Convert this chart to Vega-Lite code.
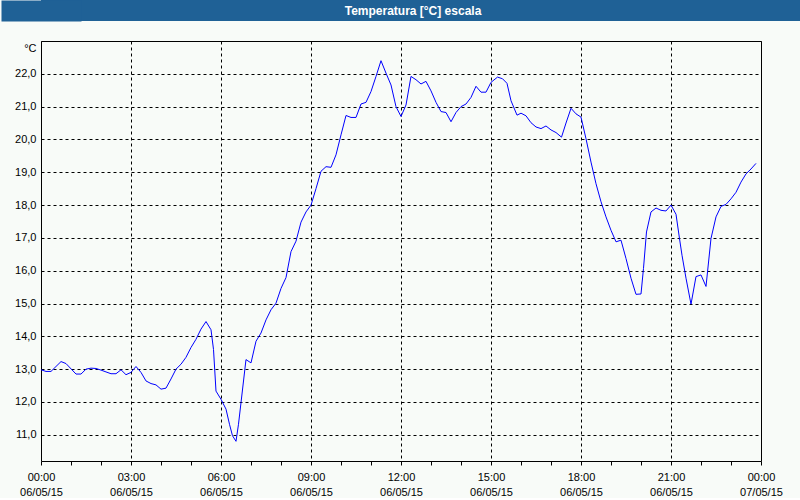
{
  "$schema": "https://vega.github.io/schema/vega-lite/v6.json",
  "background": "#F8FBF8",
  "padding": 0,
  "spacing": 19,
  "config": {"font": "Liberation Sans"},
  "datasets": {
    "head": [{"t": "Temperatura [°C] escala"}],
    "temp": [
      {"hora": 0, "v": 12.98}, {"hora": 0.167, "v": 12.93}, {"hora": 0.333, "v": 12.93},
      {"hora": 0.667, "v": 13.23}, {"hora": 0.833, "v": 13.17}, {"hora": 1.167, "v": 12.85},
      {"hora": 1.333, "v": 12.85}, {"hora": 1.5, "v": 13.0}, {"hora": 1.667, "v": 13.03},
      {"hora": 1.833, "v": 13.02}, {"hora": 2.0, "v": 12.97}, {"hora": 2.333, "v": 12.86},
      {"hora": 2.5, "v": 12.86}, {"hora": 2.667, "v": 12.98}, {"hora": 2.833, "v": 12.83},
      {"hora": 3.0, "v": 12.9}, {"hora": 3.167, "v": 13.08}, {"hora": 3.333, "v": 12.9},
      {"hora": 3.5, "v": 12.64}, {"hora": 3.667, "v": 12.56}, {"hora": 3.833, "v": 12.52},
      {"hora": 4.0, "v": 12.39}, {"hora": 4.167, "v": 12.42}, {"hora": 4.333, "v": 12.7},
      {"hora": 4.5, "v": 13.0}, {"hora": 4.667, "v": 13.15}, {"hora": 4.833, "v": 13.36},
      {"hora": 5.0, "v": 13.66}, {"hora": 5.167, "v": 13.91}, {"hora": 5.333, "v": 14.22},
      {"hora": 5.5, "v": 14.45}, {"hora": 5.667, "v": 14.2}, {"hora": 5.75, "v": 13.6},
      {"hora": 5.833, "v": 12.33}, {"hora": 6.0, "v": 12.08}, {"hora": 6.167, "v": 11.78},
      {"hora": 6.283, "v": 11.32}, {"hora": 6.383, "v": 10.97}, {"hora": 6.5, "v": 10.8},
      {"hora": 6.583, "v": 11.32}, {"hora": 6.667, "v": 11.98}, {"hora": 6.833, "v": 13.29},
      {"hora": 7.0, "v": 13.19}, {"hora": 7.167, "v": 13.85}, {"hora": 7.333, "v": 14.1},
      {"hora": 7.5, "v": 14.5}, {"hora": 7.667, "v": 14.81}, {"hora": 7.833, "v": 15.01},
      {"hora": 8.0, "v": 15.46}, {"hora": 8.167, "v": 15.79}, {"hora": 8.333, "v": 16.58},
      {"hora": 8.5, "v": 16.9}, {"hora": 8.667, "v": 17.48}, {"hora": 8.833, "v": 17.79},
      {"hora": 9.0, "v": 18.0}, {"hora": 9.167, "v": 18.5}, {"hora": 9.333, "v": 19.03},
      {"hora": 9.5, "v": 19.17}, {"hora": 9.667, "v": 19.15}, {"hora": 9.833, "v": 19.53},
      {"hora": 10.0, "v": 20.14}, {"hora": 10.167, "v": 20.73}, {"hora": 10.333, "v": 20.67},
      {"hora": 10.5, "v": 20.67}, {"hora": 10.667, "v": 21.08}, {"hora": 10.833, "v": 21.13},
      {"hora": 11.0, "v": 21.46}, {"hora": 11.167, "v": 21.92}, {"hora": 11.333, "v": 22.4},
      {"hora": 11.5, "v": 22.02}, {"hora": 11.667, "v": 21.66}, {"hora": 11.833, "v": 21.0},
      {"hora": 12.0, "v": 20.7}, {"hora": 12.167, "v": 21.05}, {"hora": 12.333, "v": 21.92},
      {"hora": 12.5, "v": 21.82}, {"hora": 12.667, "v": 21.69}, {"hora": 12.833, "v": 21.77},
      {"hora": 13.0, "v": 21.48}, {"hora": 13.167, "v": 21.13}, {"hora": 13.333, "v": 20.85},
      {"hora": 13.5, "v": 20.82}, {"hora": 13.667, "v": 20.54}, {"hora": 13.833, "v": 20.82},
      {"hora": 14.0, "v": 21.0}, {"hora": 14.167, "v": 21.08}, {"hora": 14.333, "v": 21.28},
      {"hora": 14.5, "v": 21.62}, {"hora": 14.667, "v": 21.44}, {"hora": 14.833, "v": 21.44},
      {"hora": 15.0, "v": 21.74}, {"hora": 15.217, "v": 21.9}, {"hora": 15.383, "v": 21.85},
      {"hora": 15.533, "v": 21.71}, {"hora": 15.667, "v": 21.18}, {"hora": 15.867, "v": 20.74},
      {"hora": 16.0, "v": 20.8}, {"hora": 16.167, "v": 20.72}, {"hora": 16.333, "v": 20.51},
      {"hora": 16.5, "v": 20.38}, {"hora": 16.667, "v": 20.33}, {"hora": 16.833, "v": 20.41},
      {"hora": 17.0, "v": 20.29}, {"hora": 17.167, "v": 20.21}, {"hora": 17.35, "v": 20.07},
      {"hora": 17.5, "v": 20.5}, {"hora": 17.667, "v": 20.95}, {"hora": 17.833, "v": 20.78},
      {"hora": 18.0, "v": 20.68}, {"hora": 18.167, "v": 20.02}, {"hora": 18.333, "v": 19.31},
      {"hora": 18.5, "v": 18.65}, {"hora": 18.667, "v": 18.1}, {"hora": 18.833, "v": 17.64},
      {"hora": 19.0, "v": 17.23}, {"hora": 19.167, "v": 16.88}, {"hora": 19.333, "v": 16.93},
      {"hora": 19.5, "v": 16.37}, {"hora": 19.667, "v": 15.77}, {"hora": 19.833, "v": 15.28},
      {"hora": 20.0, "v": 15.29}, {"hora": 20.083, "v": 16.07}, {"hora": 20.183, "v": 17.18},
      {"hora": 20.333, "v": 17.79}, {"hora": 20.5, "v": 17.91}, {"hora": 20.667, "v": 17.84},
      {"hora": 20.833, "v": 17.82}, {"hora": 21.0, "v": 18.0}, {"hora": 21.167, "v": 17.72},
      {"hora": 21.283, "v": 16.98}, {"hora": 21.367, "v": 16.47}, {"hora": 21.5, "v": 15.77},
      {"hora": 21.667, "v": 14.98}, {"hora": 21.833, "v": 15.82}, {"hora": 22.0, "v": 15.87},
      {"hora": 22.167, "v": 15.52}, {"hora": 22.333, "v": 16.98}, {"hora": 22.5, "v": 17.64},
      {"hora": 22.667, "v": 17.96}, {"hora": 22.833, "v": 18.02}, {"hora": 23.0, "v": 18.19},
      {"hora": 23.167, "v": 18.39}, {"hora": 23.333, "v": 18.7}, {"hora": 23.5, "v": 18.95},
      {"hora": 23.667, "v": 19.1}, {"hora": 23.833, "v": 19.27}
    ]
  },
  "vconcat": [
    {
      "width": 760,
      "height": 21,
      "data": {"name": "head"},
      "view": {"fill": "#1F6196", "stroke": null},
      "mark": {"type": "text", "color": "white", "fontWeight": "bold", "fontSize": 12, "dx": -8},
      "encoding": {
        "text": {"field": "t"},
        "y": {
          "field": "t",
          "type": "nominal",
          "axis": {
            "title": null,
            "labels": false,
            "ticks": false,
            "grid": false,
            "domain": true,
            "domainColor": "#1F6196",
            "domainWidth": 80,
            "minExtent": 40,
            "maxExtent": 40
          }
        }
      }
    },
    {
      "width": 720,
      "height": 420,
      "data": {"name": "temp"},
      "view": {"fill": "#F8FBF8", "stroke": "black", "strokeWidth": 1},
      "mark": {"type": "line", "color": "#0000FF", "strokeWidth": 1},
      "encoding": {
        "x": {
          "field": "hora",
          "type": "quantitative",
          "scale": {"domain": [0, 24], "nice": false, "zero": false},
          "axis": {
            "title": null,
            "domain": false,
            "values": [0, 1, 2, 3, 4, 5, 6, 7, 8, 9, 10, 11, 12, 13, 14, 15, 16, 17, 18, 19, 20, 21, 22, 23, 24],
            "tickSize": 4,
            "tickColor": "black",
            "labelExpr": "datum.value % 3 == 0 ? [(datum.value == 24 ? '00' : (datum.value < 10 ? '0' : '') + datum.value) + ':00', datum.value == 24 ? '07/05/15' : '06/05/15'] : ''",
            "labelOverlap": false,
            "labelFlush": false,
            "labelBound": false,
            "labelFontSize": 11,
            "labelColor": "#000",
            "labelLineHeight": 15,
            "labelPadding": 6,
            "grid": true,
            "gridColor": "black",
            "gridDash": [3, 3],
            "gridOpacity": {"condition": {"test": "datum.value % 3 == 0", "value": 1}, "value": 0}
          }
        },
        "y": {
          "field": "v",
          "type": "quantitative",
          "scale": {"domain": [10.2, 23], "nice": false, "zero": false},
          "axis": {
            "values": [11, 12, 13, 14, 15, 16, 17, 18, 19, 20, 21, 22],
            "labelExpr": "replace(format(datum.value, '.1f'), '.', ',')",
            "domain": false,
            "ticks": false,
            "labelPadding": 5,
            "labelFontSize": 11,
            "labelColor": "#000",
            "grid": true,
            "gridColor": "black",
            "gridDash": [3, 3],
            "minExtent": 40,
            "maxExtent": 40,
            "title": "°C",
            "titleAngle": 0,
            "titleX": -5,
            "titleY": 7,
            "titleAlign": "right",
            "titleBaseline": "middle",
            "titleFontSize": 11,
            "titleFontWeight": "normal",
            "titleColor": "#000"
          }
        }
      }
    }
  ]
}
